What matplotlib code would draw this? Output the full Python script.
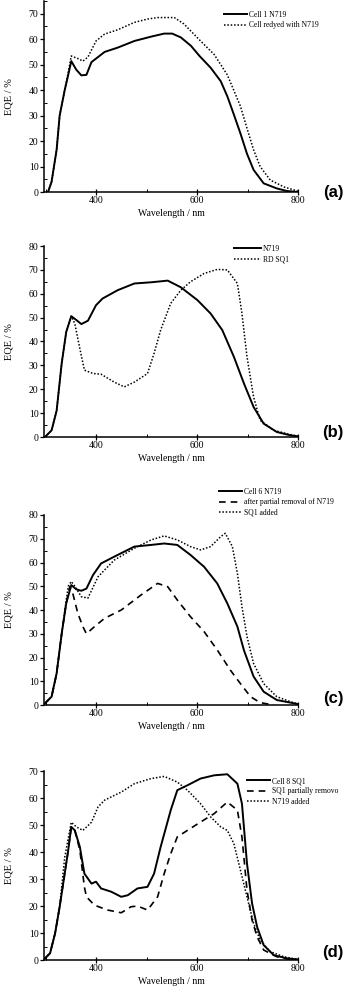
"""Four stacked EQE spectra, panels (a)-(d)."""

import matplotlib
matplotlib.use("Agg")
import matplotlib.pyplot as plt
from matplotlib.ticker import MultipleLocator

# ---- panel (a) ----
a_cell1_nm = [305, 312, 322, 328, 338, 345, 351, 361, 371, 381, 391, 404, 417, 443, 476, 509,
              535, 551, 568, 588, 605, 627, 647, 660, 673, 686, 699, 712, 732, 758, 778, 800]
a_cell1_eqe = [0, 4, 16.6, 30, 40, 46, 51.4, 48, 45.8, 46, 51, 53, 55, 56.7, 59.3, 61,
               62.2, 62.2, 60.7, 57.4, 53.4, 48.8, 43.5, 37.6, 30.4, 23, 15, 8.7, 3.4, 1.4, 0.4, 0]
a_redyed_nm = [305, 312, 322, 328, 338, 345, 351, 364, 374, 384, 400, 417, 443, 476, 502, 522,
               555, 574, 607, 634, 660, 686, 699, 712, 725, 745, 772, 797, 800]
a_redyed_eqe = [0, 4, 16.6, 30, 40, 47, 53.4, 52.4, 51.4, 53, 59.3, 62, 63.7, 66.6, 67.9, 68.5,
                68.5, 66, 59.3, 54, 46, 33.7, 25, 16.6, 10, 4.7, 2, 0.5, 0.3]

# ---- panel (b) ----
b_n719_nm = [299, 312, 322, 332, 341, 351, 361, 371, 384, 400, 413, 443, 476, 509, 542, 568,
             601, 627, 650, 673, 693, 712, 732, 758, 785, 800]
b_n719_eqe = [0, 2.8, 11, 30.8, 44, 50.6, 49, 47.3, 48.7, 55.2, 58, 61.5, 64.3, 64.8, 65.5, 62.7,
              57.3, 51.7, 44.8, 33.6, 22.4, 12.6, 5.6, 2.1, 0.7, 0.3]
b_sq1_nm = [299, 312, 322, 332, 341, 351, 358, 368, 377, 394, 410, 436, 456, 476, 502, 515,
            528, 548, 568, 587, 614, 640, 660, 680, 689, 699, 712, 725, 752, 778, 800]
b_sq1_eqe = [0, 2.8, 11, 30.8, 44, 50.6, 47.5, 37, 28, 26.6, 26.3, 23, 21, 23, 26.6, 35,
             44.8, 56, 61.5, 65, 68.5, 70.2, 70, 64.3, 51.7, 33.6, 16.8, 7, 2.8, 1.4, 0.3]

# ---- panel (c) ----
c_cell6_nm = [299, 312, 322, 332, 341, 351, 361, 371, 381, 394, 410, 443, 476, 509, 535, 561,
              587, 614, 640, 660, 680, 693, 712, 732, 758, 785, 800]
c_cell6_eqe = [0.7, 3.5, 13.3, 30, 42.8, 50.5, 48.7, 48.1, 49, 54.7, 59.6, 63.2, 66.7, 67.4, 68,
               67.4, 63.2, 58.2, 51.2, 42.8, 33, 23, 12, 5.6, 2.1, 1, 0.4]
c_removed_nm = [299, 312, 322, 332, 341, 348, 354, 364, 374, 381, 397, 417, 450, 489, 522, 542,
                561, 587, 614, 640, 666, 686, 706, 725, 752]
c_removed_eqe = [0.7, 3.5, 13.3, 30, 42.8, 49.8, 47, 38.6, 33, 30, 33, 36.5, 40, 46.3, 51.2, 49.8,
                 44.2, 37.2, 30.9, 23.2, 14.7, 9, 3.5, 1, 0]
c_sq1_nm = [299, 312, 322, 332, 341, 345, 351, 358, 371, 384, 404, 436, 476, 509, 535, 561,
            587, 607, 627, 647, 656, 670, 680, 689, 699, 712, 732, 758, 785, 800]
c_sq1_eqe = [0.7, 3.5, 13.3, 30, 44, 50, 52, 50, 45.6, 45, 54, 61, 66, 69.5, 71.2, 69.5,
             66.7, 65.3, 66.7, 70.9, 72.3, 66.7, 55.4, 41.4, 28.8, 17.5, 9, 3.5, 1.4, 0.4]

# ---- panel (d) ----
d_cell8_nm = [299, 309, 319, 328, 338, 345, 351, 358, 368, 377, 391, 400, 410, 430, 450, 463,
              482, 502, 515, 528, 548, 561, 581, 607, 634, 660, 680, 689, 699, 709, 719, 732,
              752, 778, 800]
d_cell8_eqe = [0.6, 2.5, 9.9, 19.7, 32, 40.7, 49.3, 48, 41.9, 32, 28.3, 29, 26.5, 25.3, 23.4, 24,
               26.5, 27.1, 32, 41.9, 55.5, 62.9, 64.7, 67.2, 68.4, 68.8, 65.3, 57.9, 35.7, 21,
               12.3, 5.5, 1.8, 0.6, 0.2]
d_removed_nm = [299, 309, 319, 328, 338, 345, 351, 358, 368, 377, 381, 397, 423, 450, 469, 482,
                502, 522, 535, 548, 561, 581, 607, 634, 660, 680, 689, 699, 709, 719, 732, 758,
                785, 800]
d_removed_eqe = [0.6, 2.5, 9.9, 19.7, 32, 40.7, 49.3, 48, 40.7, 27, 23.4, 20.3, 18.5, 17.5, 19.7,
                 20, 18.5, 23.4, 32, 39.4, 45.6, 48, 51.1, 54.2, 58.5, 55.5, 45.6, 25.9, 14.8,
                 8.6, 3.7, 1.2, 0.2, 0.1]
d_n719_nm = [299, 309, 319, 328, 338, 351, 361, 374, 391, 404, 417, 450, 476, 509, 535, 561,
             581, 607, 627, 647, 660, 673, 686, 699, 712, 725, 745, 772, 800]
d_n719_eqe = [0.6, 2.5, 9.9, 19.7, 38, 51, 49.3, 48, 51, 56.7, 59.2, 62.2, 65.3, 67.2, 68, 65.9,
              62.9, 57.9, 53, 49.3, 48, 43.1, 33.3, 23.4, 13.6, 7.4, 3.1, 1.2, 0.2]

SERIF = "Liberation Serif"
W, H = 353, 996


def fig_box(left, top, right, bottom):
    """Axes rectangle from pixel edges."""
    return [left / W, 1 - bottom / H, (right - left) / W, (bottom - top) / H]


def style_axes(ax, ymax, ystep=10):
    ax.set_xlim(297, 800)
    ax.set_ylim(0, ymax)
    for side in ("top", "right"):
        ax.spines[side].set_visible(False)
    for side in ("left", "bottom"):
        ax.spines[side].set_linewidth(1.1)
    ax.xaxis.set_minor_locator(MultipleLocator(100))
    ax.yaxis.set_major_locator(MultipleLocator(ystep))
    ax.yaxis.set_minor_locator(MultipleLocator(ystep / 2))
    ax.set_xticks([400, 600, 800])
    ax.tick_params(axis="x", which="major", direction="inout", length=4, width=0.9,
                   labelsize=7, pad=1)
    ax.tick_params(axis="x", which="minor", direction="in", length=2, width=0.7)
    ax.tick_params(axis="y", which="major", direction="out", length=3, width=0.9,
                   labelsize=7, pad=1)
    ax.tick_params(axis="y", which="minor", direction="in", length=2, width=0.7)
    for lab in ax.get_xticklabels() + ax.get_yticklabels():
        lab.set_family(SERIF)
    ax.set_xlabel("Wavelength / nm", family=SERIF, fontsize=7, labelpad=3)
    ax.set_ylabel("EQE / %", family=SERIF, fontsize=7.5)
    ax.yaxis.set_label_coords(-0.12, 0.5)


def add_legend(ax, fig, x, y, handlelength=3.0):
    ax.legend(loc="upper left", bbox_to_anchor=(x / W, 1 - y / H), bbox_transform=fig.transFigure,
              frameon=False, prop={"family": SERIF, "size": 5.5}, handlelength=handlelength,
              handletextpad=0.3, labelspacing=0.3, borderpad=0, borderaxespad=0)


def panel_tag(fig, y, text):
    fig.text(333 / W, 1 - y / H, text, ha="center", va="center", fontsize=12,
             fontweight="bold", family="Liberation Sans")


fig = plt.figure(figsize=(W / 100, H / 100), dpi=100)
fig.patch.set_facecolor("white")

solid = dict(color="black", lw=1.4, ls="-")
dotted = dict(color="black", lw=1.1, ls=(0, (1, 1.2)))
dashed = dict(color="black", lw=1.2, ls=(0, (4, 3)))

# (a)
ax = fig.add_axes(fig_box(44, 1, 298, 192))
ax.plot(a_cell1_nm, a_cell1_eqe, label="Cell 1 N719", **solid)
ax.plot(a_redyed_nm, a_redyed_eqe, label="Cell redyed with N719", **dotted)
style_axes(ax, 75)
ax.set_yticks(range(0, 71, 10))
add_legend(ax, fig, 224, 11)
panel_tag(fig, 193, "(a)")

# (b)
ax = fig.add_axes(fig_box(44, 246, 298, 437))
ax.plot(b_n719_nm, b_n719_eqe, label="N719", **solid)
ax.plot(b_sq1_nm, b_sq1_eqe, label="RD SQ1", **dotted)
style_axes(ax, 80)
add_legend(ax, fig, 234, 245, handlelength=3.5)
panel_tag(fig, 432, "(b)")

# (c)
ax = fig.add_axes(fig_box(44, 515, 298, 705))
ax.plot(c_cell6_nm, c_cell6_eqe, label="Cell 6 N719", **solid)
ax.plot(c_removed_nm, c_removed_eqe, label="after partial removal of N719", **dashed)
ax.plot(c_sq1_nm, c_sq1_eqe, label="SQ1 added", **dotted)
style_axes(ax, 80)
add_legend(ax, fig, 219, 488)
panel_tag(fig, 698, "(c)")

# (d)
ax = fig.add_axes(fig_box(44, 771, 298, 960))
ax.plot(d_cell8_nm, d_cell8_eqe, label="Cell 8 SQ1", **solid)
ax.plot(d_removed_nm, d_removed_eqe, label="SQ1 partially removo", **dashed)
ax.plot(d_n719_nm, d_n719_eqe, label="N719 added", **dotted)
style_axes(ax, 70)
add_legend(ax, fig, 247, 777)
panel_tag(fig, 952, "(d)")

fig.savefig("out.png", dpi=100)
